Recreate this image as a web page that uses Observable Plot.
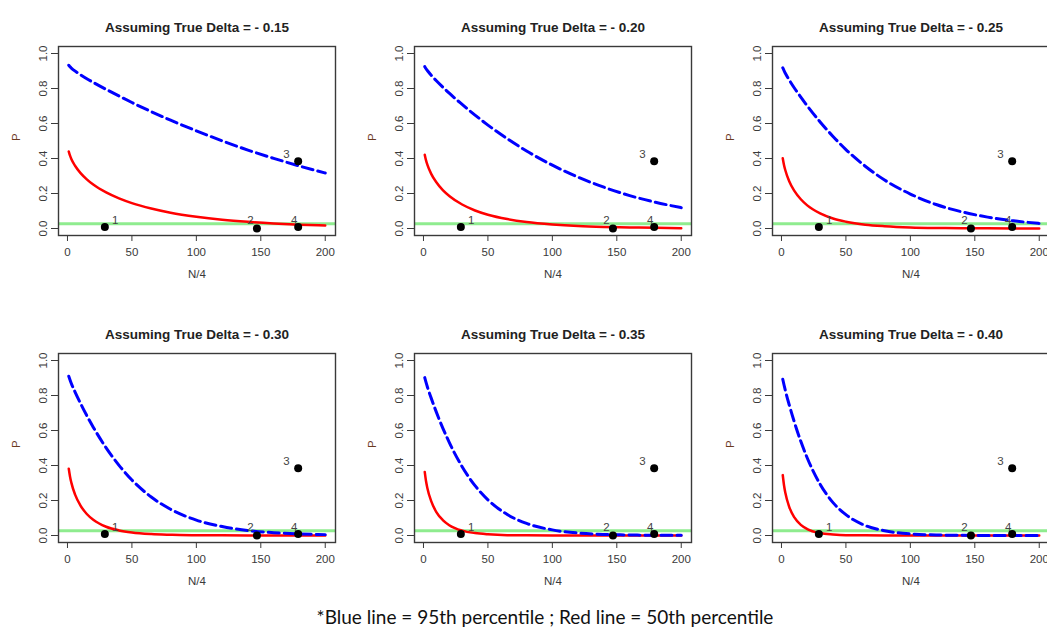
<!DOCTYPE html>
<html>
<head>
<meta charset="utf-8">
<script src="https://cdn.jsdelivr.net/npm/d3@7"></script>
<script src="https://cdn.jsdelivr.net/npm/@observablehq/plot@0.6"></script>
<style>
  html, body { margin: 0; padding: 0; background: #fff; }
  #wrap { position: relative; width: 1047px; height: 631px; overflow: hidden; background: #fff; }
  .panel { position: absolute; width: 350px; height: 300px; }
  .panel svg { max-width: none !important; }
  #caption { position: absolute; left: 0; width: 1090px; text-align: center; top: 604px;
             font-family: Lato, "Open Sans", sans-serif; font-size: 19px; color: #111; line-height: 26px; }
</style>
</head>
<body>
<div id="wrap">
  <div id="caption">*Blue line = 95th percentile ; Red line = 50th percentile</div>
</div>
<script>
// ---- data ----
const panelTitles = [
  "Assuming True Delta = - 0.15", "Assuming True Delta = - 0.20", "Assuming True Delta = - 0.25",
  "Assuming True Delta = - 0.30", "Assuming True Delta = - 0.35", "Assuming True Delta = - 0.40"
];
const nValues = [1, 2, 3, 6, 10, 15, 20, 30, 40, 50, 65, 80, 100, 120, 140, 160, 180, 200];

const red015 = [0.440,0.416,0.397,0.357,0.318,0.281,0.251,0.206,0.172,0.145,0.114,0.090,0.067,0.050,0.038,0.029,0.022,0.017];
const blue015 = [0.933,0.924,0.917,0.899,0.879,0.856,0.835,0.795,0.757,0.720,0.668,0.619,0.558,0.501,0.448,0.401,0.357,0.317];
const red020 = [0.421,0.389,0.365,0.312,0.264,0.219,0.186,0.137,0.103,0.079,0.054,0.037,0.023,0.014,0.009,0.006,0.004,0.002];
const blue020 = [0.925,0.913,0.903,0.876,0.844,0.808,0.773,0.709,0.648,0.591,0.513,0.443,0.362,0.293,0.236,0.188,0.150,0.119];
const red025 = [0.401,0.362,0.333,0.270,0.215,0.167,0.132,0.086,0.057,0.039,0.022,0.013,0.006,0.003,0.002,0.001,0.000,0.000];
const blue025 = [0.918,0.902,0.887,0.849,0.803,0.751,0.701,0.609,0.526,0.451,0.356,0.277,0.197,0.137,0.095,0.065,0.044,0.029];
const red030 = [0.382,0.336,0.302,0.232,0.172,0.123,0.090,0.050,0.029,0.017,0.008,0.004,0.001,0.001,0.000,0.000,0.000,0.000];
const blue030 = [0.910,0.889,0.869,0.818,0.757,0.685,0.619,0.501,0.401,0.317,0.220,0.150,0.088,0.051,0.028,0.016,0.009,0.005];
const red035 = [0.363,0.310,0.272,0.196,0.134,0.088,0.059,0.028,0.014,0.007,0.002,0.001,0.000,0.000,0.000,0.000,0.000,0.000];
const blue035 = [0.902,0.875,0.850,0.785,0.705,0.614,0.532,0.393,0.285,0.204,0.120,0.069,0.032,0.014,0.006,0.003,0.001,0.001];
const red040 = [0.345,0.286,0.244,0.164,0.103,0.061,0.037,0.014,0.006,0.002,0.001,0.000,0.000,0.000,0.000,0.000,0.000,0.000];
const blue040 = [0.893,0.860,0.829,0.747,0.648,0.538,0.443,0.293,0.188,0.119,0.057,0.027,0.009,0.003,0.001,0.000,0.000,0.000];

const obsLabels = ["1", "2", "3", "4"];
const obsN = [29, 147, 179, 179];
const obsP = [0.008, 0.0, 0.385, 0.009];
const obsLabelN = [37, 142, 170, 176];
const obsLabelP = [0.048, 0.048, 0.425, 0.048];

const alphaLevel = 0.027;
const xTicks = [0, 50, 100, 150, 200];
const yTicks = [0, 0.2, 0.4, 0.6, 0.8, 1.0];

const redSeries = [red015, red020, red025, red030, red035, red040];
const blueSeries = [blue015, blue020, blue025, blue030, blue035, blue040];

// ---- layout ----
const colLeft = [0, 356, 714];
const rowTop = [0, 307];

const points = obsN.map((n, i) => ({n, p: obsP[i]}));
const labels = obsLabels.map((t, i) => ({t, n: obsLabelN[i], p: obsLabelP[i]}));

const wrap = document.getElementById("wrap");

panelTitles.forEach((title, i) => {
  const red = nValues.map((n, j) => ({n, p: redSeries[i][j]}));
  const blue = nValues.map((n, j) => ({n, p: blueSeries[i][j]}));
  const chart = Plot.plot({
    width: 350, height: 300,
    marginLeft: 58, marginRight: 15, marginTop: 46, marginBottom: 65,
    style: {fontFamily: "'Liberation Sans', Arial, sans-serif", fontSize: "11.5px", color: "#3a3a3a", background: "transparent", maxWidth: "none"},
    x: {domain: [-6.96, 207.96], ticks: xTicks, tickSize: 6, tickPadding: 6, label: null},
    y: {domain: [-0.04, 1.04], ticks: yTicks, tickFormat: d3.format(".1f"), tickSize: 7, tickPadding: 5, tickRotate: -90, label: null},
    marks: [
      Plot.ruleY([alphaLevel], {stroke: "#8fec8f", strokeWidth: 3}),
      Plot.line(red, {x: "n", y: "p", stroke: "#ff0000", strokeWidth: 2.5, curve: "monotone-x"}),
      Plot.line(blue, {x: "n", y: "p", stroke: "#0000ff", strokeWidth: 3, strokeDasharray: "11,5", curve: "monotone-x"}),
      Plot.dot(points, {x: "n", y: "p", r: 4, fill: "#000", stroke: "none"}),
      Plot.text(labels, {x: "n", y: "p", text: "t", fontSize: 11.5, fill: "#444"}),
      Plot.frame({stroke: "#3a3a3a", strokeWidth: 1.4}),
      Plot.text([title], {frameAnchor: "top", dy: -24, text: d => d, fontWeight: "bold", fontSize: 13.5, fill: "#222"}),
      Plot.text(["P"], {frameAnchor: "left", dx: -42, rotate: -90, text: d => d, fontSize: 11.5, fill: "#6b3a1f"}),
      Plot.text(["N/4"], {frameAnchor: "bottom", dy: 42, text: d => d, fontSize: 11.5, fill: "#3a3a3a"})
    ]
  });
  const div = document.createElement("div");
  div.className = "panel";
  div.style.left = colLeft[i % 3] + "px";
  div.style.top = rowTop[Math.floor(i / 3)] + "px";
  div.appendChild(chart);
  wrap.appendChild(div);
});
</script>
</body>
</html>
